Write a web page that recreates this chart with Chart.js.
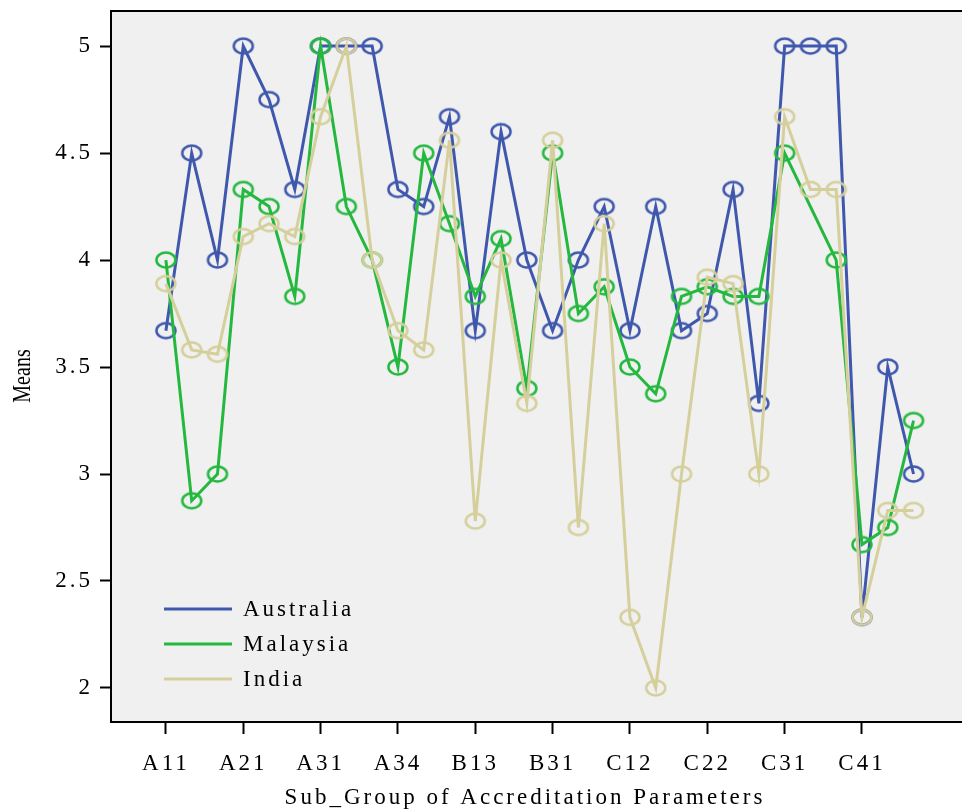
<!DOCTYPE html>
<html>
<head>
<meta charset="utf-8">
<script src="https://cdn.jsdelivr.net/npm/chart.js@4.4.1/dist/chart.umd.min.js"></script>
<style>
  html, body { margin: 0; padding: 0; background: #fff; }
</style>
</head>
<body>
<canvas id="meansChart" width="962" height="810"></canvas>
<script>
// sub-groups along the x axis (only every 3rd one gets a label)
const subGroups = [
  "A11", "A12", "A13", "A21", "A22", "A23", "A31", "A32", "A33", "A34",
  "B11", "B12", "B13", "B21", "B22", "B31", "B32", "C11", "C12", "C13",
  "C21", "C22", "C23", "C24", "C31", "C32", "C33", "C41", "C42", "C43"
];
const labelledIdx = [0, 3, 6, 9, 12, 15, 18, 21, 24, 27];
const yTicks = [2, 2.5, 3, 3.5, 4, 4.5, 5];

const seriesNames = ["Australia", "Malaysia", "India"];
const seriesColors = ["#3f58ad", "#24b83f", "#d5cf9b"];

const australia = [
  3.67, 4.5, 4.0, 5.0, 4.75, 4.33, 5.0, 5.0, 5.0, 4.33,
  4.25, 4.67, 3.67, 4.6, 4.0, 3.67, 4.0, 4.25, 3.67, 4.25,
  3.67, 3.75, 4.33, 3.33, 5.0, 5.0, 5.0, 2.33, 3.5, 3.0
];
const malaysia = [
  4.0, 2.875, 3.0, 4.33, 4.25, 3.83, 5.0, 4.25, 4.0, 3.5,
  4.5, 4.17, 3.83, 4.1, 3.4, 4.5, 3.75, 3.875, 3.5, 3.375,
  3.83, 3.875, 3.83, 3.83, 4.5, null, 4.0, 2.67, 2.75, 3.25
];
const india = [
  3.89, 3.58, 3.56, 4.11, 4.17, 4.11, 4.67, 5.0, 4.0, 3.67,
  3.58, 4.56, 2.78, 4.0, 3.33, 4.56, 2.75, 4.17, 2.33, 2.0,
  3.0, 3.92, 3.89, 3.0, 4.67, 4.33, 4.33, 2.33, 2.83, 2.83
];

const xTitle = "Sub_Group of Accreditation Parameters";
const yTitle = "Means";

const serif = "'Liberation Serif', 'Times New Roman', serif";

// open ellipse marker
function ellipseMarker(color) {
  const c = document.createElement("canvas");
  c.width = 24;
  c.height = 20;
  const g = c.getContext("2d");
  g.strokeStyle = color;
  g.lineWidth = 2.5;
  g.beginPath();
  g.ellipse(12, 10, 9.5, 7.5, 0, 0, Math.PI * 2);
  g.stroke();
  return c;
}

function toPoints(values) {
  return values.map((v, i) => ({ x: i, y: v }));
}

const allSeries = [australia, malaysia, india];
const datasets = allSeries.map((vals, k) => ({
  label: seriesNames[k],
  data: toPoints(vals),
  borderColor: seriesColors[k],
  borderWidth: 3,
  borderJoinStyle: "miter",
  pointStyle: ellipseMarker(seriesColors[k]),
  pointRadius: 9,
  tension: 0,
  spanGaps: true,
  order: 2 - k
}));

// no extra label padding around the plot
function noPad(s) {
  s.paddingTop = 0;
  s.paddingBottom = 0;
  s.paddingLeft = 0;
  s.paddingRight = 0;
}

const framePlugin = {
  id: "frame",
  beforeDraw(chart) {
    const { ctx, chartArea: a } = chart;
    ctx.save();
    ctx.fillStyle = "#f0f0f0";
    ctx.fillRect(a.left, a.top, a.right - a.left, a.bottom - a.top);
    ctx.restore();
    ctx.letterSpacing = "3px";
  },
  afterDraw(chart) {
    const { ctx, chartArea: a } = chart;
    ctx.save();
    ctx.strokeStyle = "#000";
    ctx.lineWidth = 2;
    ctx.beginPath();
    ctx.moveTo(a.left - 1, a.top);
    ctx.lineTo(a.right, a.top);
    ctx.stroke();

    // legend inside the plot
    ctx.font = "23px " + serif;
    ctx.textBaseline = "middle";
    ctx.textAlign = "left";
    seriesNames.forEach((name, k) => {
      const y = 609 + k * 35;
      ctx.strokeStyle = seriesColors[k];
      ctx.lineWidth = 3;
      ctx.beginPath();
      ctx.moveTo(164, y);
      ctx.lineTo(232, y);
      ctx.stroke();
      ctx.fillStyle = "#000";
      ctx.fillText(name, 243, y + 1);
    });

    // x axis title
    ctx.textAlign = "center";
    ctx.fillText(xTitle, 525, 798);

    // y axis title
    ctx.letterSpacing = "0px";
    ctx.font = "25px " + serif;
    ctx.translate(23, 376);
    ctx.rotate(-Math.PI / 2);
    ctx.scale(0.8, 1);
    ctx.fillText(yTitle, 0, 0);
    ctx.restore();
  }
};

new Chart(document.getElementById("meansChart"), {
  type: "line",
  data: { datasets },
  options: {
    responsive: false,
    animation: false,
    layout: { autoPadding: false, padding: { top: 11, right: 0, bottom: 0, left: 0 } },
    plugins: { legend: { display: false }, tooltip: { enabled: false } },
    scales: {
      x: {
        type: "linear",
        min: -2.13,
        max: 30.88,
        afterBuildTicks: (s) => { s.ticks = labelledIdx.map((v) => ({ value: v })); },
        afterFit: (s) => { s.height = 88; noPad(s); },
        ticks: {
          autoSkip: false,
          maxRotation: 0,
          padding: 16,
          color: "#000",
          font: { family: serif, size: 23 },
          callback: (v) => subGroups[v]
        },
        grid: { drawOnChartArea: false, drawTicks: true, tickLength: 12, tickWidth: 2, color: "#000" },
        border: { display: true, color: "#000", width: 2 }
      },
      y: {
        min: 1.841,
        max: 5.164,
        afterBuildTicks: (s) => { s.ticks = yTicks.map((v) => ({ value: v })); },
        afterFit: (s) => { s.width = 111; noPad(s); },
        ticks: {
          padding: 7,
          color: "#000",
          font: { family: serif, size: 23 },
          callback: (v) => String(v)
        },
        grid: { drawOnChartArea: false, drawTicks: true, tickLength: 11, tickWidth: 2, color: "#000" },
        border: { display: true, color: "#000", width: 2 }
      }
    }
  },
  plugins: [framePlugin]
});
</script>
</body>
</html>
